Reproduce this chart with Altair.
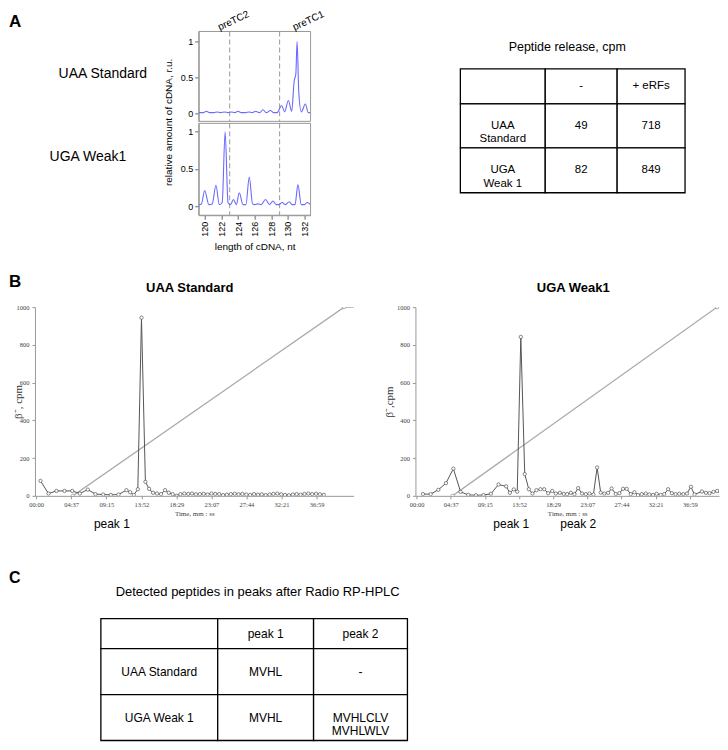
import altair as alt
import pandas as pd

SANS = "Liberation Sans"
SERIF = "Liberation Serif"

# ---------------- Panel A data ----------------
panelA_rows = ["UAA Standard", "UGA Weak1"]
panelA_ytitle = "relative amount of cDNA,  r.u."
pretc_names = ["preTC2", "preTC1"]
pretc_pos = [123, 129]
pretc_label_start = [121.8, 130.8]

uaa_len = [119.3, 119.8, 120.2, 120.6, 121.1, 121.5, 121.9, 122.4, 122.8, 123.2, 123.6, 124.0,
           124.4, 124.9, 125.3, 125.7, 126.1, 126.6, 127.0, 127.4, 127.9, 128.3, 128.7, 129.25,
           129.6, 130.05, 130.45, 130.75, 130.95, 131.1, 131.3, 131.6, 132.1, 132.45, 132.72]
uaa_amt = [0.01, 0.01, 0.03, 0.01, 0.01, 0.02, 0.01, 0.02, 0.01, 0.02, 0.01, 0.03,
           0.01, 0.01, 0.02, 0.01, 0.03, 0.01, 0.05, 0.01, 0.04, 0.01, 0.01, 0.11,
           0.02, 0.18, 0.03, 0.45, 0.55, 1.0, 0.3, 0.02, 0.13, 0.01, 0.01]

uga_len = [119.3, 119.6, 120.0, 120.5, 120.9, 121.35, 121.75, 122.1, 122.45, 122.8, 123.1, 123.45,
           123.8, 124.15, 124.6, 124.95, 125.35, 125.75, 126.0, 126.35, 126.8, 127.3, 127.8, 128.2,
           128.6, 128.9, 129.3, 129.7, 130.15, 130.5, 130.85, 131.2, 131.6, 132.0, 132.3, 132.72]
uga_amt = [0.02, 0.03, 0.21, 0.02, 0.03, 0.28, 0.02, 0.05, 1.0, 0.05, 0.02, 0.09,
           0.02, 0.18, 0.02, 0.02, 0.39, 0.03, 0.02, 0.03, 0.02, 0.09, 0.02, 0.07,
           0.02, 0.02, 0.05, 0.02, 0.06, 0.02, 0.02, 0.29, 0.02, 0.02, 0.05, 0.02]

tabA_title = "Peptide release, cpm"
tabA_header = ["", "-", "+ eRFs"]
tabA_rows = ["UAA\nStandard", "UGA\nWeak 1"]
tabA_minus = [49, 82]
tabA_erfs = [718, 849]

# ---------------- Panel B data ----------------
hplc_titles = ["UAA Standard", "UGA Weak1"]
hplc_ytitles = ["\u03b2\u207b, cpm", "\u03b2\u207b,cpm"]
tick_labels = ["00:00", "04:37", "09:15", "13:52", "18:29", "23:07", "27:44", "32:21", "36:59"]
cpm_ticks = [0, 200, 400, 600, 800, 1000]

uaa_t = [34, 97, 160, 224, 285, 345, 408, 469, 530, 590, 651, 714, 743, 772, 804, 833, 864,
         893, 925, 956, 988, 1020, 1049, 1080, 1112, 1141, 1172, 1203, 1233, 1264, 1295, 1325,
         1356, 1387, 1417, 1448, 1479, 1509, 1540, 1571, 1601, 1632, 1663, 1693, 1724, 1755,
         1785, 1816, 1847, 1877, 1908, 1939, 1969, 2000, 2031, 2061, 2092, 2123, 2153, 2184,
         2215, 2245, 2276]
uaa_cpm = [79, 12, 26, 26, 26, 12, 33, 9, 7, 5, 7, 30, 19, 5, 35, 944, 74,
           37, 16, 12, 9, 30, 16, 9, 0, 9, 12, 10, 12, 8, 9, 11,
           7, 12, 10, 9, 4, 6, 9, 11, 8, 10, 7, 5, 9, 6,
           8, 4, 7, 10, 12, 8, 5, 3, 7, 9, 6, 10, 12, 9,
           11, 8, 5]
uaa_grad_t = [290, 2437, 2522]
uaa_grad_cpm = [0, 1000, 1000]

uga_t = [51, 114, 176, 238, 298, 357, 419, 481, 543, 603, 665, 727, 757, 789, 817, 846, 878,
         911, 941, 973, 1006, 1036, 1068, 1101, 1130, 1163, 1195, 1222, 1252, 1282, 1312, 1344,
         1374, 1404, 1436, 1466, 1495, 1525, 1555, 1584, 1617, 1647, 1677, 1706, 1739, 1769,
         1798, 1828, 1861, 1890, 1920, 1949, 1982, 2011, 2043, 2073, 2103, 2133, 2166, 2196,
         2228, 2257, 2317, 2350, 2379, 2411, 2441, 2471, 2504]
uga_cpm = [9, 9, 32, 67, 144, 21, 5, 3, 4, 11, 60, 50, 16, 34, 22, 842, 115,
           35, 12, 30, 35, 35, 14, 26, 12, 16, 10, 9, 16, 9, 41, 12,
           9, 12, 7, 150, 17, 12, 16, 39, 10, 14, 37, 37, 9, 19,
           4, 9, 12, 7, 5, 11, 5, 9, 35, 14, 9, 11, 9, 12,
           48, 7, 23, 16, 14, 21, 26, 9, 18]
uga_grad_t = [292, 2441, 2522]
uga_grad_cpm = [0, 1000, 1000]

peak_names = ["peak 1", "peak 2"]

# ---------------- Panel C data ----------------
tabC_title = "Detected peptides in peaks after Radio RP-HPLC"
tabC_header = ["", "peak 1", "peak 2"]
tabC_rows = ["UAA Standard", "UGA Weak 1"]
tabC_peak1 = ["MVHL", "MVHL"]
tabC_peak2 = ["-", "MVHLCLV\nMVHLWLV"]


# ---------------- helpers ----------------
def label(text, x, y, size=12, weight="normal", align="center", baseline="middle",
          font=SANS, color="black", angle=0):
    kw = dict(fontSize=size, fontWeight=weight, align=align, baseline=baseline, font=font,
              color=color)
    if angle:
        kw["angle"] = angle
    return alt.Chart(pd.DataFrame({"lab": [text]})).mark_text(**kw).encode(
        text="lab:N", x=alt.value(x), y=alt.value(y))


def frame(w, h):
    return alt.Chart(pd.DataFrame({"f": [0]})).mark_rect(
        fillOpacity=0, stroke="#999", strokeWidth=1
    ).encode(x=alt.value(0), x2=alt.value(w), y=alt.value(0), y2=alt.value(h))


def table_layers(grid, col_edges, row_edges, width, height, size):
    cells = []
    for ri, row in enumerate(grid):
        for ci, txt in enumerate(row):
            cells.append(dict(x0=col_edges[ci], x1=col_edges[ci + 1],
                              y0=row_edges[ri], y1=row_edges[ri + 1], text=str(txt)))
    df = pd.DataFrame(cells)
    xs = alt.Scale(domain=[0, width], nice=False, zero=False)
    ys = alt.Scale(domain=[0, height], nice=False, zero=False, reverse=True)
    rect = alt.Chart(df).mark_rect(fill="white", stroke="black", strokeWidth=1.3).encode(
        x=alt.X("x0:Q", scale=xs, axis=None), x2="x1:Q",
        y=alt.Y("y0:Q", scale=ys, axis=None), y2="y1:Q")
    txt = alt.Chart(df).transform_calculate(
        xc="(datum.x0 + datum.x1) / 2", yc="(datum.y0 + datum.y1) / 2"
    ).mark_text(font=SANS, fontSize=size, lineBreak="\n", color="black").encode(
        x=alt.X("xc:Q", scale=xs, axis=None), y=alt.Y("yc:Q", scale=ys, axis=None),
        text="text:N")
    return [rect, txt]


# ---------------- Row A ----------------
ROWA_H = 240
labelsA = alt.layer(
    label("A", -26, -4, size=17, weight="bold", align="left", baseline="alphabetic"),
    label(panelA_rows[0], 68, 43, size=14),
    label(panelA_rows[1], 53, 126, size=14),
    label(panelA_ytitle, 134, 91, size=10, angle=270),
).properties(width=140, height=ROWA_H)

xdomA = [119.28, 132.72]
pretc_df = pd.DataFrame({"len": pretc_pos, "name": pretc_names})
pretc_lab_df = pd.DataFrame({"len": pretc_label_start, "name": pretc_names})
TRACE = "#6a6aff"


def trace_panel(lens, amts, ydom, height, top):
    xs = alt.Scale(domain=xdomA, nice=False, zero=False)
    ys = alt.Scale(domain=ydom, nice=False, zero=False)
    yax = alt.Axis(values=[0, 0.5, 1], format=".1~f", labelFont=SANS, labelFontSize=9,
                   labelColor="black", tickSize=4, tickColor="#666", domainColor="#999",
                   grid=False, labelPadding=2, title=None)
    if top:
        xax = None
    else:
        xax = alt.Axis(values=list(range(120, 133, 2)), labelAngle=270, labelFont=SANS,
                       labelFontSize=9, labelColor="black", tickSize=4, tickColor="#666",
                       domainColor="#999", grid=False, labelPadding=2,
                       title="length of cDNA, nt", titleFont=SANS, titleFontSize=10,
                       titleFontWeight="normal", titlePadding=5)
    df = pd.DataFrame({"len": lens, "amt": amts})
    line = alt.Chart(df).mark_line(interpolate="monotone", color=TRACE, strokeWidth=1.1).encode(
        x=alt.X("len:Q", scale=xs, axis=xax), y=alt.Y("amt:Q", scale=ys, axis=yax))
    rules = alt.Chart(pretc_df).mark_rule(color="#999", strokeDash=[5, 3], strokeWidth=1).encode(
        x=alt.X("len:Q", scale=xs, axis=xax))
    layers = [rules, line, frame(112, height)]
    if top:
        layers.append(
            alt.Chart(pretc_lab_df).mark_text(
                angle=335, align="left", baseline="alphabetic", font=SANS, fontSize=10
            ).encode(x=alt.X("len:Q", scale=xs, axis=None), y=alt.value(-1), text="name:N"))
    return alt.layer(*layers).properties(width=112, height=height)


chromA = alt.vconcat(
    trace_panel(uaa_len, uaa_amt, [-0.111, 1.139], 90, True),
    trace_panel(uga_len, uga_amt, [-0.122, 1.113], 92, False),
    spacing=0)

gridA = [tabA_header] + [[tabA_rows[i], tabA_minus[i], tabA_erfs[i]] for i in range(2)]
tableA = alt.layer(
    *table_layers(gridA, [130, 215, 287, 355], [37.5, 72.5, 116.5, 161.5], 360, ROWA_H, 11.5),
    label(tabA_title, 237, 15.5, size=12.5),
).properties(width=360, height=ROWA_H)

rowA = alt.hconcat(labelsA, chromA, tableA, spacing=3)

# ---------------- Row B ----------------
tick_secs = [int(s[:2]) * 60 + int(s[3:]) for s in tick_labels]


def hplc(t, v, gt, gv, dom, width, ytitle, ytitle_x, title, title_x, peaks, letter):
    xs = alt.Scale(domain=dom, nice=False, zero=False)
    ys = alt.Scale(domain=[0, 1000], nice=False)
    xax = alt.Axis(values=tick_secs, labelExpr="utcFormat(datum.value * 1000, '%M:%S')",
                   labelFont=SERIF, labelFontSize=6.5,
                   labelColor="#444", labelPadding=3, tickSize=3, tickColor="#999",
                   domainColor="#999", grid=False, title="Time, mm : ss", titleFont=SERIF,
                   titleFontSize=7, titleFontWeight="normal", titleColor="#444", titlePadding=1)
    yax = alt.Axis(values=cpm_ticks, format="d", labelFont=SERIF, labelFontSize=6.5,
                   labelColor="#444", labelPadding=3, tickSize=3, tickColor="#999",
                   domainColor="#999", grid=False,
                   title=ytitle, titleFont=SERIF, titleFontSize=11, titleFontWeight="normal",
                   titleColor="#333", titleX=ytitle_x, titleBaseline="middle")
    df = pd.DataFrame({"t": t, "cpm": v})
    gdf = pd.DataFrame({"t": gt, "cpm": gv})
    gdf2 = pd.DataFrame({"t": gt[:2], "cpm": gv[:2]})
    grad = alt.Chart(gdf).mark_line(color="#aaa", strokeWidth=1.3, clip=True).encode(
        x=alt.X("t:Q", scale=xs, axis=xax), y=alt.Y("cpm:Q", scale=ys, axis=yax))
    gpts = alt.Chart(gdf2).mark_point(
        shape="circle", size=12, filled=True, fill="white", stroke="#999", strokeWidth=0.8,
        opacity=1, clip=True).encode(x=alt.X("t:Q", scale=xs, axis=xax),
                                     y=alt.Y("cpm:Q", scale=ys, axis=yax))
    line = alt.Chart(df).mark_line(color="#555", strokeWidth=1, clip=True).encode(
        x=alt.X("t:Q", scale=xs, axis=xax), y=alt.Y("cpm:Q", scale=ys, axis=yax))
    pts = alt.Chart(df).mark_point(
        shape="circle", size=11, filled=True, fill="white", stroke="#555", strokeWidth=0.7,
        opacity=1, clip=True).encode(x=alt.X("t:Q", scale=xs, axis=xax),
                                     y=alt.Y("cpm:Q", scale=ys, axis=yax))
    layers = [grad, line, pts, gpts,
              label(title, title_x, -19, size=13, weight="bold")]
    for name, px in peaks:
        layers.append(label(name, px, 217, size=12))
    if letter:
        layers.append(label(letter, -26, -20, size=17, weight="bold", align="left",
                            baseline="alphabetic"))
    return alt.layer(*layers).properties(width=width, height=189)


leftB = hplc(uaa_t, uaa_cpm, uaa_grad_t, uaa_grad_cpm, [-10, 2511], 319, hplc_ytitles[0], -16,
             hplc_titles[0], 155, [(peak_names[0], 77)], "B")
rightB = hplc(uga_t, uga_cpm, uga_grad_t, uga_grad_cpm, [-10, 2456], 304, hplc_ytitles[1], -26,
              hplc_titles[1], 158, [(peak_names[0], 96), (peak_names[1], 163)], None)
rowB = alt.hconcat(leftB, rightB, spacing=28)

# ---------------- Row C ----------------
ROWC_H = 209
gridC = [tabC_header] + [[tabC_rows[i], tabC_peak1[i], tabC_peak2[i]] for i in range(2)]
rowC = alt.layer(
    *table_layers(gridC, [66, 183, 279, 373], [87, 117, 163, 209], 373, ROWC_H, 12),
    label(tabC_title, 223, 60, size=13),
    label("C", -26, 51, size=16, weight="bold", align="left", baseline="alphabetic"),
).properties(width=373, height=ROWC_H)

chart = alt.vconcat(rowA, rowB, rowC, spacing=0).properties(
    padding=0
).configure_view(stroke="transparent")

chart.save("out.html", embed_options={"renderer": "svg", "actions": False})
